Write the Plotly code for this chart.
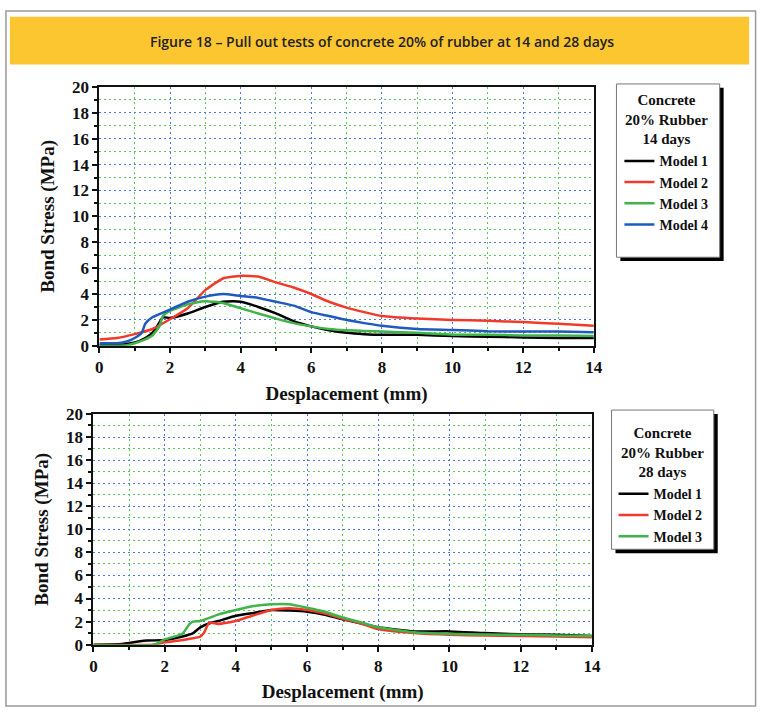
import plotly.graph_objects as go

W, H = 769, 715

# ---- data: 14 days ----
x14_m1 = [0, 0.5, 1.0, 1.3, 1.5, 1.7, 1.8, 2.0, 2.5, 3.0, 3.5, 3.8, 4.0, 4.5, 5.0, 5.5, 6.0, 6.5, 7.0, 7.5, 8, 9, 10, 11, 12, 13, 14]
y14_m1 = [0.05, 0.05, 0.25, 0.6, 1.0, 1.8, 2.2, 2.15, 2.5, 3.0, 3.4, 3.45, 3.4, 3.0, 2.5, 1.9, 1.5, 1.2, 1.0, 0.9, 0.85, 0.85, 0.75, 0.7, 0.65, 0.6, 0.6]
x14_m2 = [0, 0.5, 1.0, 1.5, 2.0, 2.5, 3.0, 3.5, 4.0, 4.5, 5.0, 5.5, 6.0, 6.5, 7.0, 7.5, 8, 9, 10, 11, 12, 13, 14]
y14_m2 = [0.48, 0.6, 0.9, 1.3, 2.05, 2.9, 4.3, 5.2, 5.4, 5.35, 4.9, 4.5, 4.0, 3.4, 2.95, 2.6, 2.3, 2.1, 2.0, 1.93, 1.83, 1.7, 1.55]
x14_m3 = [0, 0.8, 1.0, 1.3, 1.5, 1.7, 1.8, 2.0, 2.5, 3.0, 3.5, 4.0, 4.5, 5.0, 5.5, 6.0, 6.5, 7.0, 7.5, 8, 9, 10, 11, 12, 13, 14]
y14_m3 = [0.0, 0.05, 0.2, 0.5, 0.8, 1.5, 2.3, 2.7, 3.2, 3.45, 3.3, 2.9, 2.5, 2.1, 1.75, 1.5, 1.3, 1.2, 1.15, 1.1, 1.0, 0.85, 0.85, 0.8, 0.8, 0.75]
x14_m4 = [0, 0.5, 0.8, 1.0, 1.2, 1.3, 1.5, 2.0, 2.5, 3.0, 3.5, 4.0, 4.5, 5.0, 5.5, 6.0, 6.5, 7.0, 7.5, 8, 9, 10, 11, 12, 13, 14]
y14_m4 = [0.2, 0.2, 0.35, 0.6, 1.0, 1.7, 2.2, 2.8, 3.4, 3.8, 4.0, 3.85, 3.7, 3.4, 3.1, 2.6, 2.3, 2.0, 1.75, 1.55, 1.3, 1.23, 1.13, 1.1, 1.1, 1.05]

# ---- data: 28 days ----
x28_m1 = [0, 0.8, 1.0, 1.5, 2.0, 2.5, 2.8, 3.0, 3.3, 3.5, 4.0, 4.5, 5.0, 5.5, 6.0, 6.5, 7.0, 7.5, 8, 9, 10, 11, 12, 13, 14]
y28_m1 = [0, 0.05, 0.15, 0.35, 0.4, 0.7, 1.0, 1.5, 1.9, 2.05, 2.5, 2.75, 3.0, 2.95, 2.85, 2.6, 2.2, 1.85, 1.5, 1.15, 1.15, 1.0, 0.9, 0.85, 0.75]
x28_m2 = [0, 1.7, 2.0, 2.5, 3.0, 3.1, 3.25, 3.5, 4.0, 4.5, 5.0, 5.5, 6.0, 6.5, 7.0, 7.5, 8, 9, 10, 11, 12, 13, 14]
y28_m2 = [0, 0.0, 0.2, 0.4, 0.7, 1.0, 1.9, 1.8, 2.05, 2.55, 3.0, 3.15, 3.0, 2.7, 2.25, 1.85, 1.35, 1.0, 0.85, 0.8, 0.75, 0.7, 0.65]
x28_m3 = [0, 1.7, 2.0, 2.5, 2.7, 2.8, 3.0, 3.5, 4.0, 4.5, 5.0, 5.5, 6.0, 6.5, 7.0, 7.5, 8, 9, 10, 11, 12, 13, 14]
y28_m3 = [0, 0.0, 0.45, 0.95, 1.8, 2.0, 2.05, 2.6, 3.0, 3.35, 3.5, 3.5, 3.2, 2.85, 2.35, 1.95, 1.5, 1.08, 0.94, 0.88, 0.85, 0.8, 0.74]

x_ticks = [0, 2, 4, 6, 8, 10, 12, 14]
y_ticks = [0, 2, 4, 6, 8, 10, 12, 14, 16, 18, 20]
model_names = ["Model 1", "Model 2", "Model 3", "Model 4"]
colors = ["#000000", "#F23A2A", "#3FB44A", "#1F5BBE"]

header_text = "Figure 18 – Pull out tests of concrete 20% of rubber at 14 and 28 days"
legend1_title = "Concrete<br>20% Rubber<br>14 days"
legend2_title = "Concrete<br>20% Rubber<br>28 days"
x_title = "Desplacement (mm)"
y_title = "Bond Stress (MPa)"

def px(v):
    return v / W

def py(v):
    return 1 - v / H

fig = go.Figure()

series14 = [(x14_m1, y14_m1), (x14_m2, y14_m2), (x14_m3, y14_m3), (x14_m4, y14_m4)]
for i, (xs, ys) in enumerate(series14):
    fig.add_trace(go.Scatter(x=xs, y=ys, mode="lines", name=model_names[i],
                             line=dict(color=colors[i], width=2.5, shape="spline", smoothing=0.5),
                             xaxis="x", yaxis="y", legend="legend"))

series28 = [(x28_m1, y28_m1), (x28_m2, y28_m2), (x28_m3, y28_m3)]
for i, (xs, ys) in enumerate(series28):
    fig.add_trace(go.Scatter(x=xs, y=ys, mode="lines", name=model_names[i],
                             line=dict(color=colors[i], width=2.5, shape="spline", smoothing=0.5),
                             xaxis="x2", yaxis="y2", legend="legend2"))

serif = "Liberation Serif"
tickfont = dict(family=serif, size=17, color="#111", weight="bold")
titlefont = dict(family=serif, size=19, color="#111", weight="bold")
MAJ_GRID = "#4F78DA"
MIN_GRID = "#5CC65C"
DASH = "2px,3px"

def xaxis(domain, anchor):
    return dict(domain=domain, anchor=anchor, range=[0, 14], tickvals=x_ticks,
                showline=True, linecolor="#111", linewidth=2, mirror=True,
                ticks="outside", ticklen=5, tickwidth=2, tickcolor="#111",
                tickfont=tickfont, zeroline=False,
                showgrid=True, gridcolor=MAJ_GRID, griddash=DASH, gridwidth=1,
                minor=dict(dtick=1, ticks="outside", ticklen=3, tickwidth=1.5, tickcolor="#111",
                           showgrid=True, gridcolor=MIN_GRID, griddash=DASH, gridwidth=1),
                title=dict(text=x_title, font=titlefont, standoff=10))

def yaxis(domain, anchor):
    return dict(domain=domain, anchor=anchor, range=[0, 20], tickvals=y_ticks,
                showline=True, linecolor="#111", linewidth=2, mirror=True,
                ticks="outside", ticklen=5, tickwidth=2, tickcolor="#111",
                tickfont=tickfont, zeroline=False,
                showgrid=True, gridcolor=MAJ_GRID, griddash=DASH, gridwidth=1,
                minor=dict(dtick=1, ticks="outside", ticklen=3, tickwidth=1.5, tickcolor="#111",
                           showgrid=True, gridcolor=MIN_GRID, griddash=DASH, gridwidth=1),
                title=dict(text=y_title, font=titlefont, standoff=12))

shapes = [
    # outer border
    dict(type="rect", xref="paper", yref="paper", x0=px(2), x1=px(764.5), y0=py(716), y1=py(2),
         line=dict(color="#9A9A9A", width=1.5), fillcolor="rgba(0,0,0,0)", layer="below"),
    # header band
    dict(type="rect", xref="paper", yref="paper", x0=px(6), x1=px(758), y0=py(57), y1=py(8),
         line=dict(width=0), fillcolor="#FCC631", layer="below"),
    # legend 1 shadow + box
    dict(type="rect", xref="paper", yref="paper", x0=px(627), x1=px(732), y0=py(259), y1=py(81),
         line=dict(width=0), fillcolor="#000", layer="below"),
    dict(type="rect", xref="paper", yref="paper", x0=px(623), x1=px(728), y0=py(255), y1=py(77),
         line=dict(color="#777", width=1), fillcolor="#FFFFFF", layer="below"),
    # legend 2 shadow + box
    dict(type="rect", xref="paper", yref="paper", x0=px(622), x1=px(726), y0=py(559), y1=py(416),
         line=dict(width=0), fillcolor="#000", layer="below"),
    dict(type="rect", xref="paper", yref="paper", x0=px(618), x1=px(722), y0=py(555), y1=py(412),
         line=dict(color="#777", width=1), fillcolor="#FFFFFF", layer="below"),
]

legfont = dict(family=serif, size=15, color="#111", weight="bold")

annotations = [
    dict(text=header_text, xref="paper", yref="paper", x=px(385), y=py(33),
         xanchor="center", yanchor="middle", showarrow=False,
         font=dict(family="Open Sans", size=14, color="#222", weight=600)),
    dict(text=legend1_title, xref="paper", yref="paper", x=px(674), y=py(83),
         xanchor="center", yanchor="top", align="center", showarrow=False, font=legfont),
    dict(text=legend2_title, xref="paper", yref="paper", x=px(670), y=py(425),
         xanchor="center", yanchor="top", align="center", showarrow=False, font=legfont),
]

fig.update_layout(
    width=W, height=H,
    margin=dict(l=0, r=0, t=0, b=0),
    paper_bgcolor="white", plot_bgcolor="rgba(0,0,0,0)",
    xaxis=xaxis([px(97), px(600)], "y"),
    yaxis=yaxis([py(346), py(80)], "x"),
    xaxis2=xaxis([px(91), px(598)], "y2"),
    yaxis2=yaxis([py(653), py(416)], "x2"),
    shapes=shapes,
    annotations=annotations,
    legend=dict(x=px(626), y=py(140), xanchor="left", yanchor="top",
                bgcolor="rgba(0,0,0,0)", borderwidth=0, font=dict(legfont, size=14),
                tracegroupgap=0, itemclick=False),
    legend2=dict(x=px(620), y=py(482), xanchor="left", yanchor="top",
                 bgcolor="rgba(0,0,0,0)", borderwidth=0, font=dict(legfont, size=14),
                 tracegroupgap=0, itemclick=False),
)

fig.write_html("out.html")
